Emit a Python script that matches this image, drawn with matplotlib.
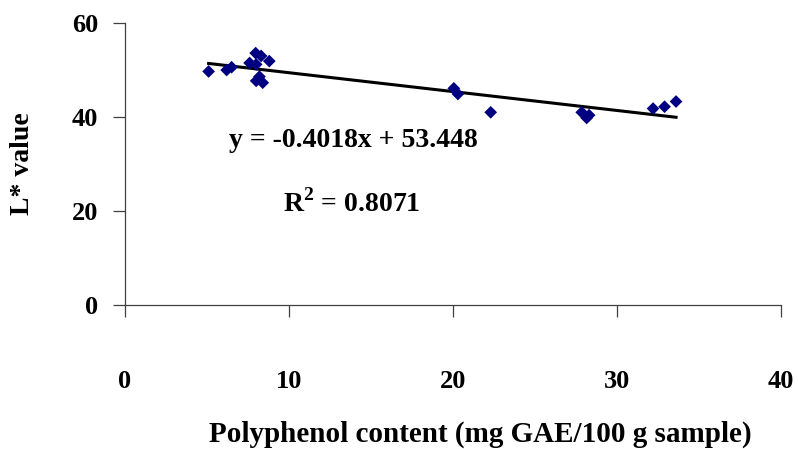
import numpy as np
import matplotlib
matplotlib.use('Agg')
import matplotlib.pyplot as plt

# polyphenol content (x) vs L* value (y)
polyphenol = [5.1, 6.2, 6.5, 7.6, 7.97, 8.3, 8.8, 8.0, 8.2, 8.0, 8.4,
              20.05, 20.3, 22.3, 27.85, 28.15, 28.3, 32.2, 32.9, 33.6]
l_value = [49.7, 50.0, 50.6, 51.5, 53.6, 53.0, 51.9, 51.2, 48.6, 47.7, 47.3,
           46.1, 44.9, 41.0, 41.0, 39.8, 40.4, 41.8, 42.2, 43.3]

slope = -0.4018
intercept = 53.448
r2 = 0.8071

x_ticks = [0, 10, 20, 30, 40]
y_ticks = [0, 20, 40, 60]

plt.rcParams['font.family'] = ['Liberation Serif', 'DejaVu Serif']
plt.rcParams['font.weight'] = 'bold'
plt.rcParams['mathtext.fontset'] = 'custom'
plt.rcParams['mathtext.rm'] = 'Liberation Serif:bold'
plt.rcParams['mathtext.bf'] = 'Liberation Serif:bold'

fig = plt.figure(figsize=(7.98, 4.49), dpi=100)
ax = fig.add_axes([0.1566, 0.3207, 0.8221, 0.628])

ax.scatter(polyphenol, l_value, marker='D', s=42, color='#000080',
           edgecolors='none', zorder=3)

# trend line
xs = np.array([min(polyphenol), max(polyphenol)])
ax.plot(xs, slope * xs + intercept, color='black', linewidth=2.2, zorder=2)

ax.set_xlim(0, 40)
ax.set_ylim(0, 60)
ax.set_xticks(x_ticks)
ax.set_yticks(y_ticks)

for s in ['top', 'right']:
    ax.spines[s].set_visible(False)
for s in ['left', 'bottom']:
    ax.spines[s].set_color('#404040')
    ax.spines[s].set_linewidth(0.9)

ax.tick_params(axis='x', direction='out', length=8.5, width=0.9,
               color='#404040', pad=38, labelsize=19)
ax.tick_params(axis='y', direction='out', length=8.5, width=0.9,
               color='#404040', pad=11, labelsize=19)
for lbl in ax.get_xticklabels() + ax.get_yticklabels():
    lbl.set_fontweight('bold')

ax.set_ylabel('L* value', fontsize=20, fontweight='bold')
ax.yaxis.set_label_coords(-0.137, 0.5)
ax.set_xlabel('Polyphenol content (mg GAE/100 g sample)', fontsize=21,
              fontweight='bold')
ax.xaxis.set_label_coords(0.542, -0.41)

eq = 'y = %sx + %s' % (slope, intercept)
ax.text(0.348, 0.585, eq, transform=ax.transAxes, ha='center', va='center',
        fontsize=20, fontweight='bold')
ax.text(0.346, 0.362, 'R$^{2}$ = ' + str(r2), transform=ax.transAxes,
        ha='center', va='center', fontsize=20, fontweight='bold')

fig.savefig('out.png', dpi=100)
